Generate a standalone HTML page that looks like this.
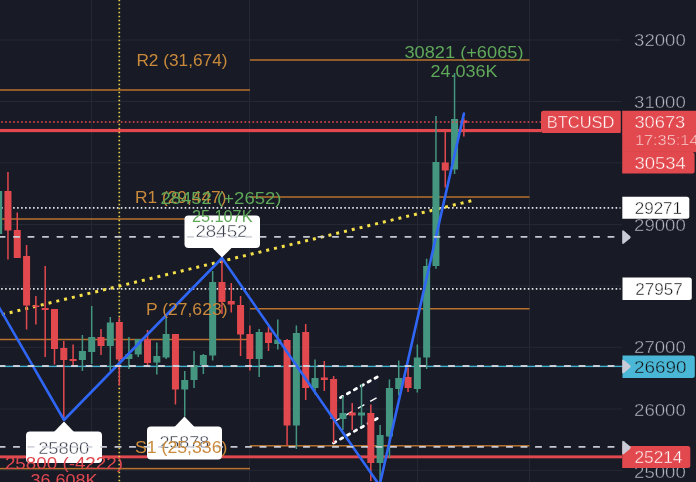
<!DOCTYPE html>
<html><head><meta charset="utf-8"><title>BTCUSD chart</title>
<style>html,body{margin:0;padding:0;background:#181a25;overflow:hidden}svg{display:block;will-change:transform}</style>
</head><body>
<svg width="696" height="482" viewBox="0 0 696 482" font-family="'Liberation Sans', sans-serif" font-size="16.3">
<rect width="696" height="482" fill="#181a25"/>
<rect x="0" y="39.5" width="622" height="1" fill="#242834"/>
<rect x="0" y="101.0" width="622" height="1" fill="#242834"/>
<rect x="0" y="162.3" width="622" height="1" fill="#242834"/>
<rect x="0" y="224.0" width="622" height="1" fill="#242834"/>
<rect x="0" y="285.5" width="622" height="1" fill="#242834"/>
<rect x="0" y="346.8" width="622" height="1" fill="#242834"/>
<rect x="0" y="408.5" width="622" height="1" fill="#242834"/>
<rect x="0" y="469.8" width="622" height="1" fill="#242834"/>
<rect x="91.0" y="0" width="1" height="482" fill="#242834"/>
<rect x="249.0" y="0" width="1" height="482" fill="#242834"/>
<rect x="417.0" y="0" width="1" height="482" fill="#242834"/>
<rect x="529.0" y="0" width="1" height="482" fill="#242834"/>
<polygon points="333.5,401.5 378,376.5 378,418 333.5,443" fill="#2a3a66" fill-opacity="0.10"/>
<rect x="0" y="89.25" width="250" height="1.5" fill="#b8722d"/>
<rect x="250" y="59.25" width="279.5" height="1.5" fill="#b8722d"/>
<rect x="0" y="218.25" width="250" height="1.5" fill="#b8722d"/>
<rect x="250" y="196.25" width="279.5" height="1.5" fill="#b8722d"/>
<rect x="0" y="338.75" width="250" height="1.5" fill="#b8722d"/>
<rect x="250" y="308.0" width="279.5" height="1.5" fill="#b8722d"/>
<rect x="0" y="467.85" width="250" height="1.5" fill="#b8722d"/>
<rect x="250" y="445.05" width="279.5" height="1.5" fill="#b8722d"/>
<rect x="0" y="365.7" width="622" height="1.4" fill="#3fb1cf"/>
<rect x="0" y="128.95000000000002" width="541" height="3.2" fill="#e2494e"/>
<rect x="0" y="455.40000000000003" width="622" height="2.9" fill="#e2494e"/>
<line x1="1.13" x2="620.5" y1="207.8" y2="207.8" stroke="#e4e5ea" stroke-width="1.8" stroke-dasharray="1.6 2.39"/>
<line x1="1.13" x2="620.5" y1="288.85" y2="288.85" stroke="#e4e5ea" stroke-width="1.8" stroke-dasharray="1.6 2.39"/>
<g stroke="#fff" fill="none" stroke-linecap="round">
<line x1="333.5" y1="401.5" x2="378" y2="376.5" stroke-width="2.8" stroke-dasharray="2.6 5.33"/>
<line x1="333.5" y1="443" x2="378" y2="418" stroke-width="2.8" stroke-dasharray="2.6 5.33"/>
<line x1="333.5" y1="422" x2="378" y2="397" stroke-width="1.4" stroke-dasharray="7.4 6.6" stroke-linecap="butt"/>
</g>
<line x1="119.3" y1="-0.25" x2="119.3" y2="482" stroke="#f5e04a" stroke-opacity="0.92" stroke-width="1.7" stroke-dasharray="1.5 2.5"/>
<line x1="-2" y1="315.5" x2="471.3" y2="200.8" stroke="#f5e04a" stroke-width="3" stroke-dasharray="3 5" stroke-dashoffset="4.0"/>
<rect x="-2.09" y="191" width="1.5" height="43" fill="#449681"/>
<rect x="-4.84" y="191" width="7" height="43" fill="#449681"/>
<rect x="7.21" y="172" width="1.5" height="87.5" fill="#e2494e"/>
<rect x="4.46" y="191" width="7" height="39.5" fill="#e2494e"/>
<rect x="16.52" y="212.5" width="1.5" height="45.5" fill="#e2494e"/>
<rect x="13.77" y="230" width="7" height="28" fill="#e2494e"/>
<rect x="25.82" y="245" width="1.5" height="84.5" fill="#e2494e"/>
<rect x="23.07" y="256" width="7" height="49.5" fill="#e2494e"/>
<rect x="35.13" y="296" width="1.5" height="28.5" fill="#e2494e"/>
<rect x="32.38" y="305.5" width="7" height="1.5" fill="#e2494e"/>
<rect x="44.43" y="266" width="1.5" height="91" fill="#e2494e"/>
<rect x="41.68" y="308" width="7" height="2" fill="#e2494e"/>
<rect x="53.73" y="309" width="1.5" height="55.5" fill="#e2494e"/>
<rect x="50.98" y="309" width="7" height="40" fill="#e2494e"/>
<rect x="63.04" y="341" width="1.5" height="79" fill="#e2494e"/>
<rect x="60.29" y="348" width="7" height="12" fill="#e2494e"/>
<rect x="72.34" y="344.5" width="1.5" height="20.5" fill="#e2494e"/>
<rect x="69.59" y="359" width="7" height="2" fill="#e2494e"/>
<rect x="81.65" y="335" width="1.5" height="36" fill="#449681"/>
<rect x="78.90" y="351" width="7" height="9" fill="#449681"/>
<rect x="90.95" y="306" width="1.5" height="58" fill="#449681"/>
<rect x="88.20" y="337" width="7" height="15" fill="#449681"/>
<rect x="100.25" y="329" width="1.5" height="26" fill="#e2494e"/>
<rect x="97.50" y="337" width="7" height="9" fill="#e2494e"/>
<rect x="109.56" y="317" width="1.5" height="54" fill="#449681"/>
<rect x="106.81" y="322.5" width="7" height="23.5" fill="#449681"/>
<rect x="118.55" y="317.5" width="1.5" height="68.0" fill="#e2494e"/>
<rect x="115.80" y="322" width="7" height="37.5" fill="#e2494e"/>
<rect x="128.17" y="337" width="1.5" height="32" fill="#449681"/>
<rect x="125.42" y="354" width="7" height="5" fill="#449681"/>
<rect x="137.47" y="339" width="1.5" height="18" fill="#449681"/>
<rect x="134.72" y="339" width="7" height="15.5" fill="#449681"/>
<rect x="146.77" y="330" width="1.5" height="35" fill="#e2494e"/>
<rect x="144.02" y="339.5" width="7" height="23.5" fill="#e2494e"/>
<rect x="156.08" y="342.5" width="1.5" height="32.0" fill="#449681"/>
<rect x="153.33" y="356" width="7" height="6.5" fill="#449681"/>
<rect x="165.38" y="318" width="1.5" height="41" fill="#449681"/>
<rect x="162.63" y="334" width="7" height="23.5" fill="#449681"/>
<rect x="174.69" y="334" width="1.5" height="70.5" fill="#e2494e"/>
<rect x="171.94" y="334" width="7" height="55.5" fill="#e2494e"/>
<rect x="183.99" y="371" width="1.5" height="45.5" fill="#449681"/>
<rect x="181.24" y="380" width="7" height="9.5" fill="#449681"/>
<rect x="193.29" y="351" width="1.5" height="37" fill="#449681"/>
<rect x="190.54" y="365" width="7" height="15" fill="#449681"/>
<rect x="202.60" y="354" width="1.5" height="20" fill="#449681"/>
<rect x="199.85" y="355" width="7" height="10" fill="#449681"/>
<rect x="211.90" y="271" width="1.5" height="89.5" fill="#449681"/>
<rect x="209.15" y="282" width="7" height="73.5" fill="#449681"/>
<rect x="221.21" y="258" width="1.5" height="56" fill="#e2494e"/>
<rect x="218.46" y="282" width="7" height="20" fill="#e2494e"/>
<rect x="230.51" y="283" width="1.5" height="29.5" fill="#e2494e"/>
<rect x="227.76" y="301" width="7" height="3.5" fill="#e2494e"/>
<rect x="239.81" y="296" width="1.5" height="60" fill="#e2494e"/>
<rect x="237.06" y="305" width="7" height="29.5" fill="#e2494e"/>
<rect x="249.12" y="325.5" width="1.5" height="45.0" fill="#e2494e"/>
<rect x="246.37" y="334" width="7" height="25" fill="#e2494e"/>
<rect x="258.42" y="329" width="1.5" height="48" fill="#449681"/>
<rect x="255.67" y="332" width="7" height="27" fill="#449681"/>
<rect x="267.73" y="327" width="1.5" height="24" fill="#e2494e"/>
<rect x="264.98" y="332.5" width="7" height="10.5" fill="#e2494e"/>
<rect x="277.03" y="319.5" width="1.5" height="30.0" fill="#449681"/>
<rect x="274.28" y="339.5" width="7" height="4.5" fill="#449681"/>
<rect x="286.33" y="339" width="1.5" height="106.5" fill="#e2494e"/>
<rect x="283.58" y="340" width="7" height="85.5" fill="#e2494e"/>
<rect x="295.64" y="325.5" width="1.5" height="123.5" fill="#449681"/>
<rect x="292.89" y="333" width="7" height="92.5" fill="#449681"/>
<rect x="304.94" y="324" width="1.5" height="76" fill="#e2494e"/>
<rect x="302.19" y="332" width="7" height="56" fill="#e2494e"/>
<rect x="314.25" y="359.5" width="1.5" height="35.0" fill="#449681"/>
<rect x="311.50" y="378" width="7" height="10" fill="#449681"/>
<rect x="323.55" y="361" width="1.5" height="30" fill="#e2494e"/>
<rect x="320.80" y="377.5" width="7" height="2.5" fill="#e2494e"/>
<rect x="332.85" y="376" width="1.5" height="67" fill="#e2494e"/>
<rect x="330.10" y="379" width="7" height="40" fill="#e2494e"/>
<rect x="342.16" y="396" width="1.5" height="34" fill="#449681"/>
<rect x="339.41" y="413" width="7" height="6" fill="#449681"/>
<rect x="351.46" y="403" width="1.5" height="27" fill="#e2494e"/>
<rect x="348.71" y="412.5" width="7" height="3.0" fill="#e2494e"/>
<rect x="360.77" y="384" width="1.5" height="42" fill="#449681"/>
<rect x="358.02" y="412.5" width="7" height="3.0" fill="#449681"/>
<rect x="370.07" y="404.5" width="1.5" height="76.5" fill="#e2494e"/>
<rect x="367.32" y="413" width="7" height="50" fill="#e2494e"/>
<rect x="379.37" y="425" width="1.5" height="58" fill="#449681"/>
<rect x="376.62" y="435" width="7" height="28" fill="#449681"/>
<rect x="388.68" y="379.5" width="1.5" height="78.5" fill="#449681"/>
<rect x="385.93" y="388" width="7" height="48.5" fill="#449681"/>
<rect x="397.98" y="360.5" width="1.5" height="35.0" fill="#449681"/>
<rect x="395.23" y="378" width="7" height="11" fill="#449681"/>
<rect x="407.29" y="367.5" width="1.5" height="24.5" fill="#e2494e"/>
<rect x="404.54" y="377" width="7" height="11" fill="#e2494e"/>
<rect x="416.59" y="344.5" width="1.5" height="48.0" fill="#449681"/>
<rect x="413.84" y="357.5" width="7" height="31.5" fill="#449681"/>
<rect x="425.89" y="258.75" width="1.5" height="110.25" fill="#449681"/>
<rect x="423.14" y="266" width="7" height="91.5" fill="#449681"/>
<rect x="435.20" y="116" width="1.5" height="152.75" fill="#449681"/>
<rect x="432.45" y="162" width="7" height="104" fill="#449681"/>
<rect x="444.50" y="131.4" width="1.5" height="56.099999999999994" fill="#e2494e"/>
<rect x="441.75" y="162.5" width="7" height="8.0" fill="#e2494e"/>
<rect x="453.81" y="73" width="1.5" height="101" fill="#449681"/>
<rect x="451.06" y="119" width="7" height="50.5" fill="#449681"/>
<rect x="463.11" y="118" width="1.5" height="18.5" fill="#e2494e"/>
<rect x="460.36" y="120.4" width="7" height="2.5" fill="#e2494e"/>
<line x1="1.2" x2="541" y1="121.9" y2="121.9" stroke="#e2494e" stroke-opacity="0.75" stroke-width="2" stroke-dasharray="1.7 2.288"/>
<polyline points="-20,274.3 64,420 222,258 379.6,485.5 463.9,113.6" fill="none" stroke="#2f66f5" stroke-width="2.6" stroke-linejoin="round" stroke-linecap="round"/>
<rect x="26" y="431.5" width="76" height="31.5" rx="4" fill="#fff"/>
<polygon points="54,432.0 64,421.5 74,432.0" fill="#fff"/>
<rect x="147" y="426.5" width="75" height="33.0" rx="4" fill="#fff"/>
<polygon points="174.5,427.0 184.5,416.5 194.5,427.0" fill="#fff"/>
<rect x="184.5" y="215.5" width="75.5" height="32.5" rx="4" fill="#fff"/>
<polygon points="212,247.5 222,257.5 232,247.5" fill="#fff"/>
<text x="38.15" y="453.60" textLength="51.10" lengthAdjust="spacingAndGlyphs" fill="#3b3f4c" stroke="#fff" stroke-width="0.4">25800</text>
<text x="159.40" y="448.10" textLength="49.85" lengthAdjust="spacingAndGlyphs" fill="#3b3f4c" stroke="#fff" stroke-width="0.4">25878</text>
<text x="195.40" y="237.10" textLength="52.10" lengthAdjust="spacingAndGlyphs" fill="#3b3f4c" stroke="#fff" stroke-width="0.4">28452</text>
<line x1="-0.7" x2="621" y1="236.8" y2="236.8" stroke="#d0d2da" stroke-opacity="0.95" stroke-width="1.8" stroke-linecap="round" stroke-dasharray="5.4 9.1"/>
<line x1="-0.7" x2="621" y1="366" y2="366" stroke="#d0d2da" stroke-opacity="0.95" stroke-width="1.8" stroke-linecap="round" stroke-dasharray="5.4 9.1"/>
<line x1="-0.7" x2="621" y1="446.9" y2="446.9" stroke="#d0d2da" stroke-opacity="0.95" stroke-width="1.8" stroke-linecap="round" stroke-dasharray="5.4 9.1"/>
<text x="136.40" y="66.10" textLength="91.10" lengthAdjust="spacingAndGlyphs" fill="#c98a3c" stroke="none" stroke-width="0.4">R2 (31,674)</text>
<text x="134.90" y="203.10" textLength="91.60" lengthAdjust="spacingAndGlyphs" fill="#c98a3c" stroke="none" stroke-width="0.4">R1 (29,447)</text>
<text x="145.90" y="315.10" textLength="81.60" lengthAdjust="spacingAndGlyphs" fill="#c98a3c" stroke="none" stroke-width="0.4">P (27,623)</text>
<text x="134.90" y="452.60" textLength="92.60" lengthAdjust="spacingAndGlyphs" fill="#c98a3c" stroke="none" stroke-width="0.4">S1 (25,336)</text>
<text x="404.40" y="58.10" textLength="119.10" lengthAdjust="spacingAndGlyphs" fill="#5fa859" stroke="none" stroke-width="0.4">30821 (+6065)</text>
<text x="430.40" y="76.60" textLength="67.10" lengthAdjust="spacingAndGlyphs" fill="#5fa859" stroke="none" stroke-width="0.4">24.036K</text>
<text x="160.40" y="204.10" textLength="121.10" lengthAdjust="spacingAndGlyphs" fill="#5fa859" stroke="none" stroke-width="0.4">28452 (+2652)</text>
<text x="191.90" y="222.10" textLength="60.60" lengthAdjust="spacingAndGlyphs" fill="#5fa859" stroke="none" stroke-width="0.4">25.107K</text>
<text x="4.90" y="469.10" textLength="118.10" lengthAdjust="spacingAndGlyphs" fill="#e0484f" stroke="none" stroke-width="0.4">25800 (-4222)</text>
<text x="30.40" y="485.60" textLength="67.10" lengthAdjust="spacingAndGlyphs" fill="#e0484f" stroke="none" stroke-width="0.4">36.608K</text>
<rect x="622" y="0" width="74" height="482" fill="#181a25"/>
<text x="634.10" y="46.10" textLength="51.70" lengthAdjust="spacingAndGlyphs" fill="#b4b7c1" stroke="#181a25" stroke-width="0.4">32000</text>
<text x="634.10" y="107.70" textLength="51.70" lengthAdjust="spacingAndGlyphs" fill="#b4b7c1" stroke="#181a25" stroke-width="0.4">31000</text>
<text x="634.10" y="231.40" textLength="51.70" lengthAdjust="spacingAndGlyphs" fill="#b4b7c1" stroke="#181a25" stroke-width="0.4">29000</text>
<text x="634.10" y="353.40" textLength="51.70" lengthAdjust="spacingAndGlyphs" fill="#b4b7c1" stroke="#181a25" stroke-width="0.4">27000</text>
<text x="634.10" y="415.70" textLength="51.70" lengthAdjust="spacingAndGlyphs" fill="#b4b7c1" stroke="#181a25" stroke-width="0.4">26000</text>
<text x="634.10" y="477.70" textLength="51.70" lengthAdjust="spacingAndGlyphs" fill="#b4b7c1" stroke="#181a25" stroke-width="0.4">25000</text>
<path d="M622.2,231.6 V242.79999999999998 Q622.2,244.79999999999998 623.9,243.6 L630.0,238.5 Q631.5,237.2 630.0,235.89999999999998 L623.9,230.79999999999998 Q622.2,229.6 622.2,231.6 Z" fill="#c9ccd6"/>
<path d="M543.5,110.8 H619.8 Q620.8,110.8 620.8,111.8 V132 Q620.8,133 619.8,133 H543.5 Q541,133 541,130.5 V113.3 Q541,110.8 543.5,110.8 Z" fill="#e2494e"/>
<text x="546.80" y="127.60" textLength="67.60" lengthAdjust="spacingAndGlyphs" fill="#fff" stroke="#e2494e" stroke-width="0.4">BTCUSD</text>
<path d="M622.2,110.8 H700 V152 H622.2 Z" fill="#e2494e"/>
<text x="634.40" y="127.90" textLength="50.90" lengthAdjust="spacingAndGlyphs" fill="#fff" stroke="#e2494e" stroke-width="0.4">30673</text>
<text x="634.90" y="145.20" textLength="63.60" lengthAdjust="spacingAndGlyphs" fill="#fff" stroke="#e2494e" stroke-width="0.4" fill-opacity="0.8" font-size="14.6">17:35:14</text>
<path d="M622.2,151.5 H696 V152.3 H692 Q694.6,152.3 694.6,154.9 V171 Q694.6,173.6 692,173.6 H622.2 Z" fill="#e2494e"/>
<rect x="622.2" y="151.4" width="72.4" height="0.7" fill="#000" fill-opacity="0.05"/>
<text x="634.40" y="168.90" textLength="51.40" lengthAdjust="spacingAndGlyphs" fill="#fff" stroke="#e2494e" stroke-width="0.4">30534</text>
<path d="M622.3,196.7 H686.8 Q689.3,196.7 689.3,199.2 V216.2 Q689.3,218.7 686.8,218.7 H622.3 Z" fill="#fff"/>
<text x="634.70" y="213.70" textLength="47.40" lengthAdjust="spacingAndGlyphs" fill="#111" stroke="#fff" stroke-width="0.4">29271</text>
<path d="M622.5,277.6 H689.3 Q691.8,277.6 691.8,280.1 V297.5 Q691.8,300 689.3,300 H622.5 Z" fill="#fff"/>
<text x="635.20" y="294.90" textLength="47.60" lengthAdjust="spacingAndGlyphs" fill="#111" stroke="#fff" stroke-width="0.4">27957</text>
<path d="M622.5,355.5 H692.3 Q694.8,355.5 694.8,358 V375.5 Q694.8,378 692.3,378 H622.5 Z" fill="#4bb7d6"/>
<path d="M622.2,360.9 V372.1 Q622.2,374.1 623.9,372.9 L630.0,367.8 Q631.5,366.5 630.0,365.2 L623.9,360.1 Q622.2,358.9 622.2,360.9 Z" fill="#c9ccd6"/>
<text x="633.90" y="372.80" textLength="52.60" lengthAdjust="spacingAndGlyphs" fill="#111" stroke="#4bb7d6" stroke-width="0.4">26690</text>
<path d="M622.2,446 H687.8 Q690.3,446 690.3,448.5 V465.5 Q690.3,468 687.8,468 H622.2 Z" fill="#e2494e"/>
<path d="M622.2,442.0 V453.20000000000005 Q622.2,455.20000000000005 623.9,454.0 L630.0,448.90000000000003 Q631.5,447.6 630.0,446.3 L623.9,441.20000000000005 Q622.2,440.0 622.2,442.0 Z" fill="#c9ccd6"/>
<text x="634.40" y="462.80" textLength="48.10" lengthAdjust="spacingAndGlyphs" fill="#fff" stroke="#e2494e" stroke-width="0.4">25214</text>
</svg>
</body></html>
